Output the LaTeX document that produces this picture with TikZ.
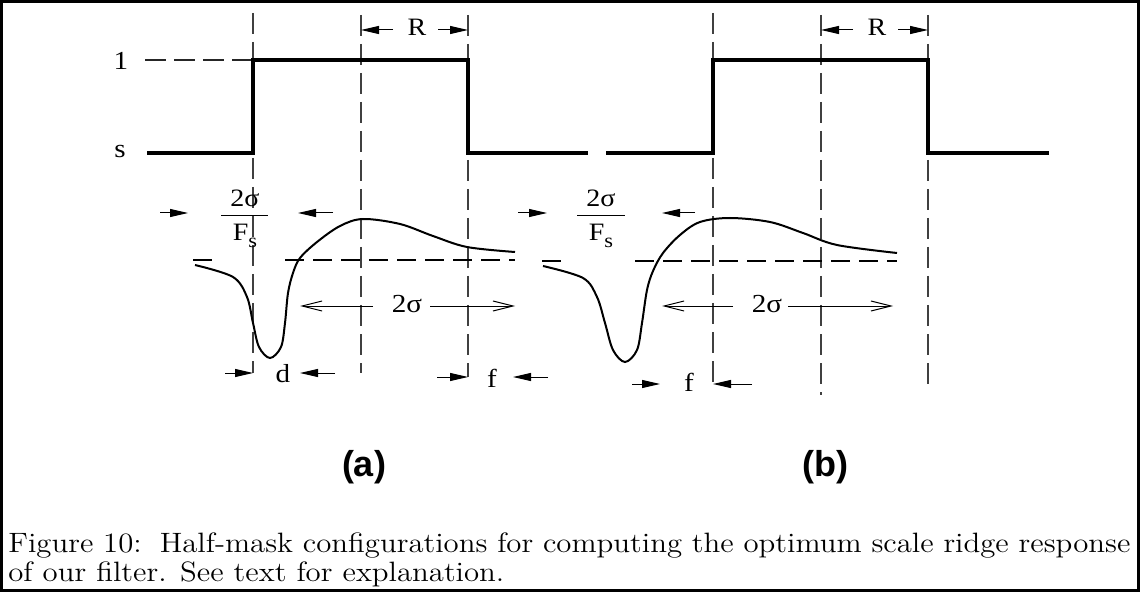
\documentclass[tikz,border=0pt]{standalone}
\usepackage{fontspec}
\newfontfamily\timesf{Liberation Serif}
\newfontfamily\helvf{Liberation Sans}
\usetikzlibrary{arrows.meta}
\newcommand{\hwide}[1]{\scalebox{1.12}[1]{#1}}
\newcommand{\capwide}[1]{\scalebox{1.1}[1]{#1}}
\begin{document}
\begin{tikzpicture}[x=0.5pt,y=-0.5pt,
  frame/.style={line width=1.5pt},
  stepline/.style={line width=1.6pt, line join=miter},
  guide/.style={line width=0.55pt, dash pattern=on 10.5pt off 4pt, black!75},
  leveldash/.style={line width=0.55pt, dash pattern=on 10.5pt off 4pt, black!85},
  basedash/.style={line width=0.8pt, dash pattern=on 9.5pt off 4.5pt},
  resp/.style={line width=1pt},
  dimarrow/.style={line width=0.5pt, -{Triangle[length=9pt,width=4pt]}},
  widearrow/.style={line width=0.5pt, -{Straight Barb[length=10pt,width=5pt]}},
  lab/.style={font=\timesf\fontsize{13}{15}\selectfont, inner sep=0pt, anchor=base},
  smalllab/.style={font=\timesf\fontsize{12.5}{14}\selectfont, inner sep=0pt, anchor=base},
  panel/.style={font=\helvf\bfseries\fontsize{18}{20}\selectfont, inner sep=0pt},
  capt/.style={font=\fontsize{14}{16}\selectfont, inner sep=0pt, anchor=base west}
]
\useasboundingbox (0,0) rectangle (1140,593);
\draw[frame] (1.5,1.5) rectangle (1138.5,590.5);

% vertical guide lines
\foreach \x/\t/\b in {253/13/373, 361/15/373, 468/15/377, 713/13/385, 821/15/395, 928/15/388}
  \draw[guide] (\x,\t) -- (\x,\b);

% level 1 dashed line
\coordinate (lvA) at (145,60);
\coordinate (lvB) at (253,60);
\draw[leveldash] (lvA) -- (lvB);

% step functions
\draw[stepline] (147,153) -- (253,153) -- (253,60) -- (468,60) -- (468,153) -- (588,153);
\draw[stepline] (606,153) -- (713,153) -- (713,60) -- (928,60) -- (928,153) -- (1049,153);

% axis labels
\node[lab] (one) at (121,70) {\hwide{1}};
\node[lab] (sval) at (120,158) {\hwide{s}};

% R dimensions
\node[smalllab] (Ra) at (417,36) {\hwide{R}};
\coordinate (aRlt) at (393,30); \coordinate (aRlh) at (361,30);
\coordinate (aRrt) at (438,30); \coordinate (aRrh) at (468,30);
\draw[dimarrow] (aRlt) -- (aRlh);
\draw[dimarrow] (aRrt) -- (aRrh);
\node[smalllab] (Rb) at (877,36) {\hwide{R}};
\coordinate (bRlt) at (853,30); \coordinate (bRlh) at (821,30);
\coordinate (bRrt) at (898,30); \coordinate (bRrh) at (928,30);
\draw[dimarrow] (bRlt) -- (bRlh);
\draw[dimarrow] (bRrt) -- (bRrh);

% fractions 2sigma / F_s
\node[smalllab] (fanum) at (245,207) {\hwide{2σ}};
\draw[line width=0.5pt] (221,216) -- (268,216);
\node[smalllab] (faden) at (245,241) {\hwide{F\raisebox{-0.28em}{\fontsize{10}{10}\selectfont s}}};
\node[smalllab] (fbnum) at (601,207) {\hwide{2σ}};
\draw[line width=0.5pt] (577,216) -- (625,216);
\node[smalllab] (fbden) at (601,241) {\hwide{F\raisebox{-0.28em}{\fontsize{10}{10}\selectfont s}}};

\coordinate (faLt) at (160,213); \coordinate (faLh) at (188,213);
\coordinate (faRt) at (333,213); \coordinate (faRh) at (298,213);
\draw[dimarrow] (faLt) -- (faLh);
\draw[dimarrow] (faRt) -- (faRh);
\coordinate (fbLt) at (518,213); \coordinate (fbLh) at (547,213);
\coordinate (fbRt) at (695,213); \coordinate (fbRh) at (662,213);
\draw[dimarrow] (fbLt) -- (fbLh);
\draw[dimarrow] (fbRt) -- (fbRh);

% zero baselines
\draw[basedash] (193,260) -- (212,260);
\draw[basedash] (285,260) -- (515,260);
\draw[basedash] (542,261) -- (563,261);
\draw[basedash] (635,261) -- (897,261);

% filter responses
\draw[resp] plot[smooth, tension=0.55] coordinates {(195,265) (233,277) (247,297) (253,323) (259,347) (270,358) (281,347) (285,323) (288,293) (293,273) (300,258) (317,242) (340,226) (363,219) (400,224) (433,236) (467,247) (515,252)};
\draw[resp] plot[smooth, tension=0.55] coordinates {(543,266) (583,278) (597,297) (605,323) (613,350) (625,362) (637,350) (642,323) (647,290) (653,271) (663,253) (680,235) (700,222) (730,218) (770,222) (803,233) (837,245) (897,253)};

% 2 sigma spans
\node[lab] (sa) at (407,313) {\hwide{2σ}};
\coordinate (saLt) at (373,306); \coordinate (saLh) at (300,306);
\coordinate (saRt) at (430,306); \coordinate (saRh) at (515,306);
\draw[widearrow] (saLt) -- (saLh);
\draw[widearrow] (saRt) -- (saRh);
\node[lab] (sb) at (767,313) {\hwide{2σ}};
\coordinate (sbLt) at (733,306); \coordinate (sbLh) at (662,306);
\coordinate (sbRt) at (788,306); \coordinate (sbRh) at (893,306);
\draw[widearrow] (sbLt) -- (sbLh);
\draw[widearrow] (sbRt) -- (sbRh);

% d and f
\node[lab] (da) at (283,382) {\hwide{d}};
\coordinate (daLt) at (225,373); \coordinate (daLh) at (253,373);
\coordinate (daRt) at (335,373); \coordinate (daRh) at (300,373);
\draw[dimarrow] (daLt) -- (daLh);
\draw[dimarrow] (daRt) -- (daRh);
\node[lab] (fa) at (492,387) {\hwide{f}};
\coordinate (faaLt) at (437,377); \coordinate (faaLh) at (468,377);
\coordinate (faaRt) at (548,377); \coordinate (faaRh) at (513,377);
\draw[dimarrow] (faaLt) -- (faaLh);
\draw[dimarrow] (faaRt) -- (faaRh);
\node[lab] (fb) at (689,391) {\hwide{f}};
\coordinate (fbbLt) at (632,384); \coordinate (fbbLh) at (660,384);
\coordinate (fbbRt) at (752,384); \coordinate (fbbRh) at (713,384);
\draw[dimarrow] (fbbLt) -- (fbbLh);
\draw[dimarrow] (fbbRt) -- (fbbRh);

% panel labels
\node[panel] (pa) at (364,467) {(a)};
\node[panel] (pb) at (825,467) {(b)};

% caption
\node[capt] (cap1) at (8,552) {\makebox[561pt][s]{\capwide{Figure}\ \capwide{10:}\hspace{9pt}\capwide{Half-mask} \capwide{configurations} \capwide{for} \capwide{computing} \capwide{the} \capwide{optimum} \capwide{scale} \capwide{ridge} \capwide{response}}};
\node[capt] (cap2) at (8,581) {\capwide{of our filter. See text for explanation.}};
\end{tikzpicture}
\end{document}
